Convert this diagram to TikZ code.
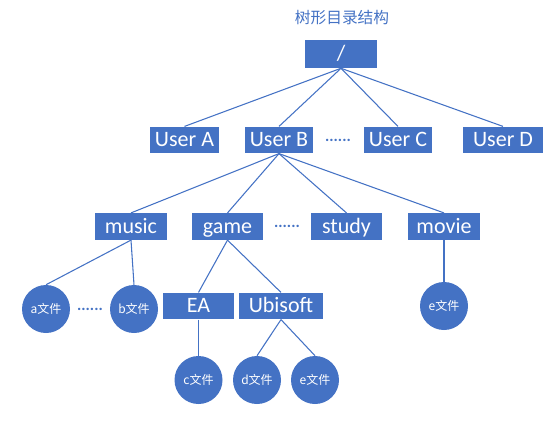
\documentclass[tikz,border=0pt]{standalone}
\usepackage{fontspec}
\setmainfont{Carlito}
\newfontfamily\cjk{Noto Sans CJK SC}
\definecolor{offblue}{RGB}{68,114,196}
\tikzset{
  dirbox/.style={draw=none,fill=offblue,text=white,font=\fontsize{16.5}{18}\selectfont,
    minimum width=53pt,minimum height=20pt,inner sep=0pt,text height=12pt,text depth=2pt},
  filecircle/.style={circle,draw=none,fill=offblue,text=white,
    font=\cjk\fontsize{9}{10}\selectfont,minimum size=36pt,inner sep=0pt},
  moredots/.style={text=offblue,font=\fontsize{12}{14}\selectfont\bfseries,inner sep=0pt},
  branch/.style={draw=offblue,line width=0.8pt}
}
\begin{document}
\begin{tikzpicture}[x=0.75pt,y=0.75pt,yscale=-1,xscale=1]
\useasboundingbox (0,0) rectangle (554,430);

% Text Node
\node [text=offblue,font=\cjk\fontsize{11.8}{13}\selectfont,inner sep=0pt] (title) at (342,18) {树形目录结构};

%Shape: Rectangle (root)
\node [dirbox,minimum width=54pt,minimum height=21pt] (root) at (341,54) {/};

%Shape: Rectangle (users)
\node [dirbox,minimum width=52pt] (usera) at (184.5,140) {User A};
\node [dirbox,minimum width=51pt] (userb) at (279,140) {User B};
\node [dirbox,minimum width=51pt] (userc) at (398,140) {User C};
\node [dirbox,minimum width=60pt] (userd) at (503,140) {User D};
\node [moredots] (dotsa) at (338,140) {......};

%Shape: Rectangle (folders of User B)
\node [dirbox,minimum width=54pt] (music) at (131,226.5) {music};
\node [dirbox] (game) at (227.5,226.5) {game};
\node [dirbox] (study) at (346.5,226.5) {study};
\node [dirbox,minimum width=54pt] (movie) at (444,226.5) {movie};
\node [moredots] (dotsb) at (287,226.5) {......};

%Shape: Rectangle (folders of game)
\node [dirbox] (ea) at (198.5,306) {EA};
\node [dirbox,minimum width=63pt] (ubisoft) at (281,306) {Ubisoft};

%Shape: Circle (files)
\node [filecircle] (filea) at (46,309) {a文件};
\node [filecircle] (fileb) at (134,309) {b文件};
\node [moredots] (dotsc) at (90,309) {......};
\node [filecircle] (filee) at (444,306) {e文件};
\node [filecircle] (filec) at (198.5,380) {c文件};
\node [filecircle] (filed) at (257,380) {d文件};
\node [filecircle] (fileeb) at (315,380) {e文件};

%Straight Lines
\draw [branch] (root.south) -- (usera.north);
\draw [branch] (root.south) -- (userb.north);
\draw [branch] (root.south) -- (userc.north);
\draw [branch] (root.south) -- (userd.north);
\draw [branch] (userb.south) -- (music.north);
\draw [branch] (userb.south) -- (game.north);
\draw [branch] (userb.south) -- (study.north);
\draw [branch] (userb.south) -- (movie.north);
\draw [branch] (music.south) -- (filea.north);
\draw [branch] (music.south) -- (fileb.north);
\draw [branch] (game.south) -- (ea.north);
\draw [branch] (game.south) -- (ubisoft.north);
\draw [branch] (movie.south) -- (filee.north);
\draw [branch] (ea.south) -- (filec.north);
\draw [branch] (ubisoft.south) -- (filed.north);
\draw [branch] (ubisoft.south) -- (fileeb.north);

\end{tikzpicture}
\end{document}
